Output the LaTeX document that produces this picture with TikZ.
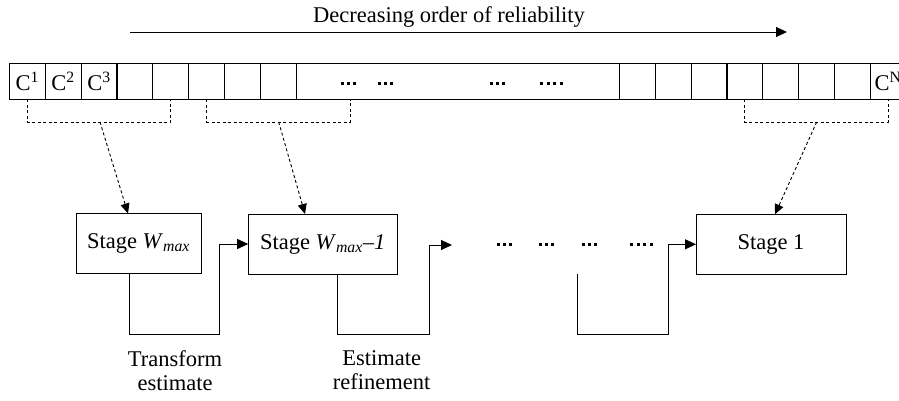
\documentclass[tikz,border=0pt]{standalone}
\usepackage{fontspec}
\setmainfont{Liberation Serif}
\usetikzlibrary{arrows.meta}
\newcommand\sqd{\rule{3.3pt}{3.3pt}}
\newcommand\dthree{\sqd\hspace{2.6pt}\sqd\hspace{2.6pt}\sqd}
\newcommand\dfour{\sqd\hspace{3.2pt}\sqd\hspace{3.2pt}\sqd\hspace{3.2pt}\sqd}
\begin{document}
\begin{tikzpicture}[x=1pt,y=-1pt,line width=0.9pt,
  font=\fontsize{22.5}{24}\selectfont,
  cell/.style={draw,minimum width=36pt,minimum height=36pt,inner sep=0pt,outer sep=0pt},
  stagebox/.style={draw,minimum height=60pt,inner sep=0pt,outer sep=0pt},
  flow/.style={-{Triangle[length=11pt,width=10pt]}},
  dflow/.style={dash pattern=on 3pt off 2.5pt,-{Triangle[length=10pt,width=9pt]}},
  bracket/.style={dash pattern=on 3pt off 2.5pt},
  dots/.style={inner sep=0pt,outer sep=0pt,anchor=west}]
\useasboundingbox (0,0) rectangle (899,401);
% title and arrow
\node[anchor=base] (title) at (449,22.7) {Decreasing order of reliability};
\coordinate (ta) at (130,32);
\coordinate (tb) at (787,32);
\draw[flow] (ta) -- (tb);
% strip cells
\foreach \i/\x in {1/27.2,2/63.1,3/99,4/134.9,5/170.8,6/206.7,7/242.6,8/278.5}
  \node[cell] (c\i) at (\x,81.3) {};
\node[draw,minimum width=323pt,minimum height=36pt,inner sep=0pt,outer sep=0pt] (span) at (457.5,81.3) {};
\foreach \i/\x in {9/637,10/673,11/709,12/744.6,13/780.4,14/816.2,15/852,16/888}
  \node[cell] (c\i) at (\x,81.3) {};
\node at (c1) {C\textsuperscript{1}};
\node at (c2) {C\textsuperscript{2}};
\node at (c3) {C\textsuperscript{3}};
\node at (c16) {C\textsuperscript{N}};
\node[dots] (d1) at (341,83.7) {\dthree};
\node[dots] (d2) at (378,83.7) {\dthree};
\node[dots] (d3) at (490,83.7) {\dthree};
\node[dots] (d4) at (540,83.7) {\dfour};
% dashed brackets
\coordinate (b2r) at (350,99.3);
\draw[bracket] (c1.south) -- ++(0,22.7) -| (c5.south);
\draw[bracket] (c6.south) -- ++(0,22.7) -| (b2r);
\draw[bracket] (c12.south) -- ++(0,22.7) -| (c16.south);
\coordinate (m1) at (100,122);
\coordinate (m2) at (278.7,122);
\coordinate (m3) at (816.7,122);
% stage boxes
\node[stagebox,minimum width=125pt] (s1) at (138.5,243.5) {Stage \textit{W}\textsubscript{\textit{max}}};
\node[stagebox,minimum width=149pt] (s2) at (322.7,244) {Stage \textit{W}\textsubscript{\textit{max}}\textit{–1}};
\node[stagebox,minimum width=150pt] (s3) at (771,244.3) {Stage 1};
\draw[dflow] (m1) -- ([xshift=-10.5pt]s1.north);
\draw[dflow] (m2) -- ([xshift=-17.7pt]s2.north);
\draw[dflow] (m3) -- ([xshift=4pt]s3.north);
% solid connectors
\coordinate (e2) at (452,245);
\coordinate (f3) at (577,274);
\draw[flow] ([xshift=-9.2pt]s1.south) |- (219,334) |- (s2.west);
\draw[flow] ([xshift=15pt]s2.south) |- (429,334) |- (e2);
\draw[flow] (f3) |- (668,334) |- (s3.west);
% middle dots
\node[dots] (d5) at (496.7,244.3) {\dthree};
\node[dots] (d6) at (539,244.3) {\dthree};
\node[dots] (d7) at (582,244.3) {\dthree};
\node[dots] (d8) at (630,244.3) {\dfour};
% labels
\node[align=center,anchor=north] (l1) at (175,347) {Transform\\estimate};
\node[align=center,anchor=north] (l2) at (381.7,347) {Estimate\\refinement};
\end{tikzpicture}
\end{document}
